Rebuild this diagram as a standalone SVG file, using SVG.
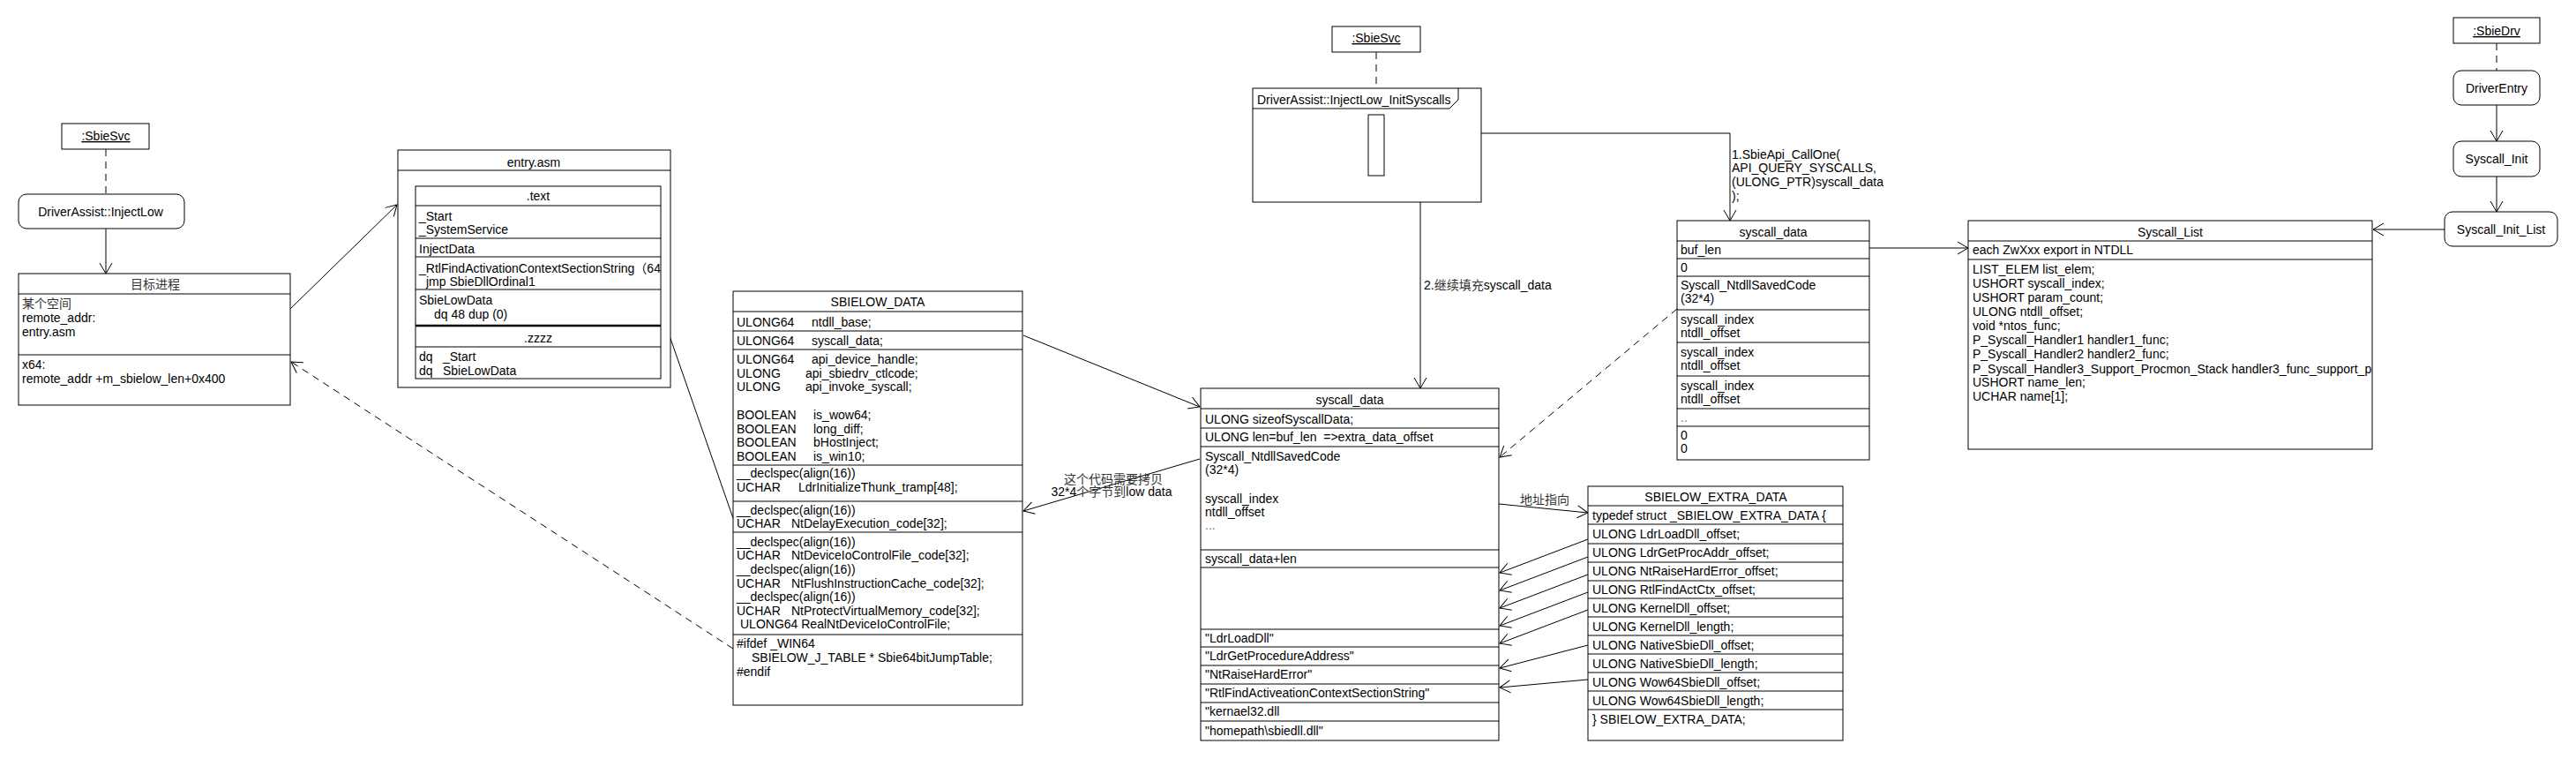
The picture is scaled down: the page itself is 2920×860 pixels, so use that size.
<svg xmlns="http://www.w3.org/2000/svg" width="2920" height="860" viewBox="0 0 2920 860">
<style>
.b{fill:#fff;stroke:#000;stroke-width:1}
.ln{fill:none;stroke:#000;stroke-width:1}
.d{fill:none;stroke:#000;stroke-width:1;stroke-dasharray:8,6}
.c{fill:none;stroke:#000;stroke-width:1}
text{font-family:"Liberation Sans",Arial,"Noto Sans CJK SC",sans-serif;font-size:14px;fill:#000}
.m{text-anchor:middle}
.cn{font-family:"Liberation Sans","Noto Sans CJK SC",sans-serif;fill:#333}
.g{fill:#777}
</style>
<defs>
<marker id="a" viewBox="-14 -9 16 18" refX="0" refY="0" markerWidth="16" markerHeight="18" markerUnits="userSpaceOnUse" orient="auto">
<path d="M-12,-7 L0,0 L-12,7" fill="none" stroke="#000" stroke-width="1"/>
</marker>
<clipPath id="clipText"><rect x="471" y="211" width="278" height="218"/></clipPath>
<clipPath id="clipList"><rect x="2231" y="250" width="458" height="259"/></clipPath>
</defs>
<rect x="0" y="0" width="2920" height="860" fill="#fff"/>

<g id="connectors">
<line class="d" x1="120" y1="169" x2="120" y2="220"/>
<line class="c" x1="120" y1="259" x2="120" y2="310" marker-end="url(#a)"/>
<line class="c" x1="329" y1="350" x2="450" y2="232" marker-end="url(#a)"/>
<line class="d" x1="831" y1="735" x2="330" y2="410" marker-end="url(#a)"/>
<line class="c" x1="832" y1="590" x2="749" y2="352" marker-end="url(#a)"/>
<line class="c" x1="1160" y1="380" x2="1360" y2="461" marker-end="url(#a)"/>
<line class="c" x1="1360" y1="520" x2="1160" y2="579" marker-end="url(#a)"/>
<line class="d" x1="1560" y1="59" x2="1560" y2="100"/>
<polyline class="c" points="1569,151 1961,151 1961,250" marker-end="url(#a)"/>
<polyline class="c" points="1569,181 1610,181 1610,440" marker-end="url(#a)"/>
<line class="d" x1="1901" y1="350" x2="1700" y2="518" marker-end="url(#a)"/>
<line class="c" x1="1699" y1="571" x2="1800" y2="581" marker-end="url(#a)"/>
<line class="c" x1="1800" y1="611" x2="1700" y2="649" marker-end="url(#a)"/>
<line class="c" x1="1800" y1="631" x2="1700" y2="669" marker-end="url(#a)"/>
<line class="c" x1="1800" y1="651" x2="1700" y2="689" marker-end="url(#a)"/>
<line class="c" x1="1800" y1="671" x2="1700" y2="709" marker-end="url(#a)"/>
<line class="c" x1="1800" y1="691" x2="1700" y2="729" marker-end="url(#a)"/>
<line class="c" x1="1800" y1="731" x2="1700" y2="757" marker-end="url(#a)"/>
<line class="c" x1="1800" y1="770" x2="1700" y2="779" marker-end="url(#a)"/>
<line class="c" x1="2119" y1="281" x2="2231" y2="281" marker-end="url(#a)"/>
<line class="d" x1="2830" y1="49" x2="2830" y2="80"/>
<line class="c" x1="2830" y1="119" x2="2830" y2="160" marker-end="url(#a)"/>
<line class="c" x1="2830" y1="200" x2="2830" y2="240" marker-end="url(#a)"/>
<line class="c" x1="2771" y1="260" x2="2690" y2="260" marker-end="url(#a)"/>
<text x="1963" y="180">1.SbieApi_CallOne(</text>
<text x="1963" y="195">API_QUERY_SYSCALLS,</text>
<text x="1963" y="211">(ULONG_PTR)syscall_data</text>
<text x="1963" y="227">);</text>
<text x="1614" y="328">2.<tspan class="cn">继续填充</tspan>syscall_data</text>
<text class="m cn" x="1262" y="548">这个代码需要拷贝</text>
<text class="m" x="1260" y="562">32*4<tspan class="cn">个字节到</tspan>low data</text>
<text class="m cn" x="1751" y="571">地址指向</text>
</g>

<g id="sbiesvc1">
<rect class="b" x="70" y="140" width="99" height="29"/>
<text class="m" x="120" y="159" text-decoration="underline">:SbieSvc</text>
</g>
<g id="injectlow">
<rect class="b" x="21" y="220" width="188" height="39" rx="9"/>
<text class="m" x="114" y="245">DriverAssist::InjectLow</text>
</g>
<g id="target">
<rect class="b" x="21" y="310" width="308" height="149"/>
<line class="ln" x1="21" y1="333" x2="329" y2="333"/>
<line class="ln" x1="21" y1="402" x2="329" y2="402"/>
<text class="m cn" x="176" y="327">目标进程</text>
<text class="cn" x="25" y="349">某个空间</text>
<text x="25" y="365">remote_addr:</text>
<text x="25" y="381">entry.asm</text>
<text x="25" y="418">x64:</text>
<text x="25" y="434">remote_addr +m_sbielow_len+0x400</text>
</g>

<g id="entryasm">
<rect class="b" x="451" y="170" width="309" height="269"/>
<line class="ln" x1="451" y1="193" x2="760" y2="193"/>
<text class="m" x="605" y="189">entry.asm</text>
<rect class="b" x="471" y="211" width="278" height="218"/>
<line class="ln" x1="471" y1="233" x2="749" y2="233"/>
<line class="ln" x1="471" y1="270" x2="749" y2="270"/>
<line class="ln" x1="471" y1="291" x2="749" y2="291"/>
<line class="ln" x1="471" y1="328" x2="749" y2="328"/>
<line x1="471" y1="369" x2="749" y2="369" stroke="#000" stroke-width="2.5"/>
<line class="ln" x1="471" y1="393" x2="749" y2="393"/>
<text class="m" x="610" y="227">.text</text>
<text x="475" y="250">_Start</text>
<text x="475" y="265">_SystemService</text>
<text x="475" y="287">InjectData</text>
<g clip-path="url(#clipText)"><text x="475" y="309">_RtlFindActivationContextSectionString<tspan font-family="'Noto Sans CJK SC',sans-serif">（</tspan>64</text></g>
<text x="483" y="324">jmp SbieDllOrdinal1</text>
<text x="475" y="345">SbieLowData</text>
<text x="492" y="361">dq  48 dup (0)</text>
<text class="m" x="610" y="388">.zzzz</text>
<text x="475" y="409">dq</text><text x="502" y="409">_Start</text>
<text x="475" y="425">dq</text><text x="502" y="425">SbieLowData</text>
</g>

<g id="sbielow_data">
<rect class="b" x="831" y="330" width="328" height="469"/>
<line class="ln" x1="831" y1="353" x2="1159" y2="353"/>
<line class="ln" x1="831" y1="375" x2="1159" y2="375"/>
<line class="ln" x1="831" y1="396" x2="1159" y2="396"/>
<line class="ln" x1="831" y1="527" x2="1159" y2="527"/>
<line class="ln" x1="831" y1="568" x2="1159" y2="568"/>
<line class="ln" x1="831" y1="603" x2="1159" y2="603"/>
<line class="ln" x1="831" y1="719" x2="1159" y2="719"/>
<text class="m" x="995" y="347">SBIELOW_DATA</text>
<text x="835" y="370">ULONG64</text><text x="920" y="370">ntdll_base;</text>
<text x="835" y="391">ULONG64</text><text x="920" y="391">syscall_data;</text>
<text x="835" y="412">ULONG64</text><text x="920" y="412">api_device_handle;</text>
<text x="835" y="428">ULONG</text><text x="913" y="428">api_sbiedrv_ctlcode;</text>
<text x="835" y="443">ULONG</text><text x="913" y="443">api_invoke_syscall;</text>
<text x="835" y="475">BOOLEAN</text><text x="922" y="475">is_wow64;</text>
<text x="835" y="491">BOOLEAN</text><text x="922" y="491">long_diff;</text>
<text x="835" y="506">BOOLEAN</text><text x="922" y="506">bHostInject;</text>
<text x="835" y="522">BOOLEAN</text><text x="922" y="522">is_win10;</text>
<text x="835" y="541">__declspec(align(16))</text>
<text x="835" y="557">UCHAR</text><text x="905" y="557">LdrInitializeThunk_tramp[48];</text>
<text x="835" y="583">__declspec(align(16))</text>
<text x="835" y="598">UCHAR</text><text x="897" y="598">NtDelayExecution_code[32];</text>
<text x="835" y="619">__declspec(align(16))</text>
<text x="835" y="634">UCHAR</text><text x="897" y="634">NtDeviceIoControlFile_code[32];</text>
<text x="835" y="650">__declspec(align(16))</text>
<text x="835" y="666">UCHAR</text><text x="897" y="666">NtFlushInstructionCache_code[32];</text>
<text x="835" y="681">__declspec(align(16))</text>
<text x="835" y="697">UCHAR</text><text x="897" y="697">NtProtectVirtualMemory_code[32];</text>
<text x="839" y="712">ULONG64 RealNtDeviceIoControlFile;</text>
<text x="835" y="734">#ifdef _WIN64</text>
<text x="852" y="750">SBIELOW_J_TABLE * Sbie64bitJumpTable;</text>
<text x="835" y="766">#endif</text>
</g>

<g id="sbiesvc2">
<rect class="b" x="1510" y="30" width="100" height="29"/>
<text class="m" x="1560" y="48" text-decoration="underline">:SbieSvc</text>
</g>
<g id="initsyscalls">
<rect class="b" x="1420" y="100" width="259" height="129"/>
<path class="ln" d="M1420,123 H1643 L1653,113 V100"/>
<text x="1425" y="118">DriverAssist::InjectLow_InitSyscalls</text>
<rect class="b" x="1551" y="130" width="18" height="69"/>
</g>

<g id="syscall_data_main">
<rect class="b" x="1361" y="440" width="338" height="399"/>
<line class="ln" x1="1361" y1="463" x2="1699" y2="463"/>
<line class="ln" x1="1361" y1="485" x2="1699" y2="485"/>
<line class="ln" x1="1361" y1="506" x2="1699" y2="506"/>
<line class="ln" x1="1361" y1="623" x2="1699" y2="623"/>
<line class="ln" x1="1361" y1="643" x2="1699" y2="643"/>
<line class="ln" x1="1361" y1="713" x2="1699" y2="713"/>
<line class="ln" x1="1361" y1="733" x2="1699" y2="733"/>
<line class="ln" x1="1361" y1="754" x2="1699" y2="754"/>
<line class="ln" x1="1361" y1="775" x2="1699" y2="775"/>
<line class="ln" x1="1361" y1="796" x2="1699" y2="796"/>
<line class="ln" x1="1361" y1="817" x2="1699" y2="817"/>
<text class="m" x="1530" y="458">syscall_data</text>
<text x="1366" y="480">ULONG sizeofSyscallData;</text>
<text x="1366" y="500" xml:space="preserve">ULONG len=buf_len  =&gt;extra_data_offset</text>
<text x="1366" y="522">Syscall_NtdllSavedCode</text>
<text x="1366" y="537">(32*4)</text>
<text x="1366" y="570">syscall_index</text>
<text x="1366" y="585">ntdll_offset</text>
<text class="g" x="1366" y="600">...</text>
<text x="1366" y="638">syscall_data+len</text>
<text x="1366" y="728">"LdrLoadDll"</text>
<text x="1366" y="748">"LdrGetProcedureAddress"</text>
<text x="1366" y="769">"NtRaiseHardError"</text>
<text x="1366" y="790">"RtlFindActiveationContextSectionString"</text>
<text x="1366" y="811">"kernael32.dll</text>
<text x="1366" y="833">"homepath\sbiedll.dll"</text>
</g>

<g id="syscall_data_right">
<rect class="b" x="1901" y="250" width="218" height="271"/>
<line class="ln" x1="1901" y1="273" x2="2119" y2="273"/>
<line class="ln" x1="1901" y1="293" x2="2119" y2="293"/>
<line class="ln" x1="1901" y1="313" x2="2119" y2="313"/>
<line class="ln" x1="1901" y1="351" x2="2119" y2="351"/>
<line class="ln" x1="1901" y1="388" x2="2119" y2="388"/>
<line class="ln" x1="1901" y1="426" x2="2119" y2="426"/>
<line class="ln" x1="1901" y1="463" x2="2119" y2="463"/>
<line class="ln" x1="1901" y1="483" x2="2119" y2="483"/>
<text class="m" x="2010" y="268">syscall_data</text>
<text x="1905" y="288">buf_len</text>
<text x="1905" y="308">0</text>
<text x="1905" y="328">Syscall_NtdllSavedCode</text>
<text x="1905" y="343">(32*4)</text>
<text x="1905" y="367">syscall_index</text>
<text x="1905" y="382">ntdll_offset</text>
<text x="1905" y="404">syscall_index</text>
<text x="1905" y="419">ntdll_offset</text>
<text x="1905" y="442">syscall_index</text>
<text x="1905" y="457">ntdll_offset</text>
<text class="g" x="1905" y="478">..</text>
<text x="1905" y="498">0</text>
<text x="1905" y="513">0</text>
</g>

<g id="sbielow_extra_data">
<rect class="b" x="1800" y="551" width="289" height="288"/>
<line class="ln" x1="1800" y1="573" x2="2089" y2="573"/>
<line class="ln" x1="1800" y1="594" x2="2089" y2="594"/>
<line class="ln" x1="1800" y1="616" x2="2089" y2="616"/>
<line class="ln" x1="1800" y1="637" x2="2089" y2="637"/>
<line class="ln" x1="1800" y1="658" x2="2089" y2="658"/>
<line class="ln" x1="1800" y1="678" x2="2089" y2="678"/>
<line class="ln" x1="1800" y1="699" x2="2089" y2="699"/>
<line class="ln" x1="1800" y1="720" x2="2089" y2="720"/>
<line class="ln" x1="1800" y1="741" x2="2089" y2="741"/>
<line class="ln" x1="1800" y1="762" x2="2089" y2="762"/>
<line class="ln" x1="1800" y1="783" x2="2089" y2="783"/>
<line class="ln" x1="1800" y1="804" x2="2089" y2="804"/>
<text class="m" x="1945" y="568">SBIELOW_EXTRA_DATA</text>
<text x="1805" y="589">typedef struct _SBIELOW_EXTRA_DATA {</text>
<text x="1805" y="610">ULONG LdrLoadDll_offset;</text>
<text x="1805" y="631">ULONG LdrGetProcAddr_offset;</text>
<text x="1805" y="652">ULONG NtRaiseHardError_offset;</text>
<text x="1805" y="673">ULONG RtlFindActCtx_offset;</text>
<text x="1805" y="694">ULONG KernelDll_offset;</text>
<text x="1805" y="715">ULONG KernelDll_length;</text>
<text x="1805" y="736">ULONG NativeSbieDll_offset;</text>
<text x="1805" y="757">ULONG NativeSbieDll_length;</text>
<text x="1805" y="778">ULONG Wow64SbieDll_offset;</text>
<text x="1805" y="799">ULONG Wow64SbieDll_length;</text>
<text x="1805" y="820">} SBIELOW_EXTRA_DATA;</text>
</g>

<g id="syscall_list">
<rect class="b" x="2231" y="250" width="458" height="259"/>
<line class="ln" x1="2231" y1="273" x2="2689" y2="273"/>
<line class="ln" x1="2231" y1="294" x2="2689" y2="294"/>
<text class="m" x="2460" y="268">Syscall_List</text>
<text x="2236" y="288">each ZwXxx export in NTDLL</text>
<g clip-path="url(#clipList)">
<text x="2236" y="310">LIST_ELEM list_elem;</text>
<text x="2236" y="326">USHORT syscall_index;</text>
<text x="2236" y="342">USHORT param_count;</text>
<text x="2236" y="358">ULONG ntdll_offset;</text>
<text x="2236" y="374">void *ntos_func;</text>
<text x="2236" y="390">P_Syscall_Handler1 handler1_func;</text>
<text x="2236" y="406">P_Syscall_Handler2 handler2_func;</text>
<text x="2236" y="423">P_Syscall_Handler3_Support_Procmon_Stack handler3_func_support_procmon;</text>
<text x="2236" y="438">USHORT name_len;</text>
<text x="2236" y="454">UCHAR name[1];</text>
</g>
</g>

<g id="sbiedrv">
<rect class="b" x="2781" y="20" width="98" height="29"/>
<text class="m" x="2830" y="40" text-decoration="underline">:SbieDrv</text>
</g>
<g id="driverentry">
<rect class="b" x="2781" y="80" width="98" height="39" rx="9"/>
<text class="m" x="2830" y="105">DriverEntry</text>
</g>
<g id="syscall_init">
<rect class="b" x="2781" y="160" width="98" height="40" rx="9"/>
<text class="m" x="2830" y="185">Syscall_Init</text>
</g>
<g id="syscall_init_list">
<rect class="b" x="2771" y="240" width="128" height="39" rx="9"/>
<text class="m" x="2835" y="265">Syscall_Init_List</text>
</g>
</svg>
